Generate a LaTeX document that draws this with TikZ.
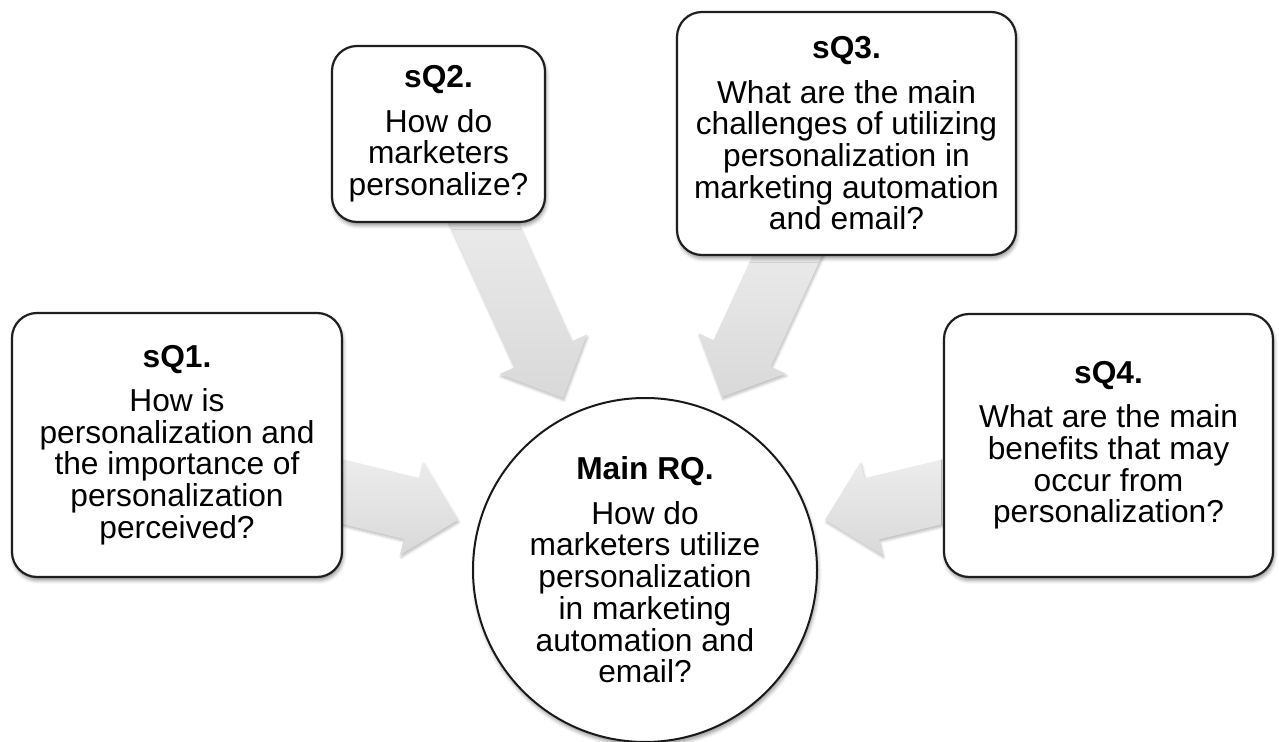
\documentclass[tikz,border=0pt]{standalone}
\usepackage{fontspec}
\setmainfont{Liberation Sans}
\usetikzlibrary{calc,shadows.blur}

\tikzset{
  qtext/.style={font=\fontsize{15.85pt}{15.85pt}\selectfont, align=center, text=black},
  qbox/.style={qtext, draw=black!88, line width=1.1pt, fill=white,
    rounded corners=12.5pt, inner sep=0pt,
    blur shadow={shadow xshift=0.6pt, shadow yshift=-1.8pt,
      shadow blur radius=1.8pt, shadow opacity=40}},
  qmain/.style={qtext, circle, draw=black!90, line width=1pt, fill=white,
    inner sep=0pt, minimum size=172pt,
    blur shadow={shadow xshift=0.6pt, shadow yshift=-1.8pt,
      shadow blur radius=1.8pt, shadow opacity=40}},
  convfill/.style={top color=black!7, bottom color=black!15, draw=none,
    blur shadow={shadow xshift=0.5pt, shadow yshift=-1.2pt,
      shadow blur radius=1.2pt, shadow opacity=25}}
}

% block arrow from a start point (hidden under its box) to a tip
\newcommand\convarrow[2]{%
  \coordinate (#1h) at ($(#2)!24pt!(#1)$);
  \path[convfill]
    ($(#1)!15.75pt!90:(#2)$) -- ($(#1h)!15.75pt!-90:(#1)$)
    -- ($(#1h)!24pt!-90:(#1)$) -- (#2)
    -- ($(#1h)!24pt!90:(#1)$) -- ($(#1h)!15.75pt!90:(#1)$)
    -- ($(#1)!15.75pt!-90:(#2)$) -- cycle;
}

\begin{document}
\begin{tikzpicture}[x=0.5pt, y=-0.5pt]
\useasboundingbox (0,0) rectangle (1279,742);

% arrow ends
\coordinate (s1) at (322.6,486.7);  \coordinate (t1) at (458,520);
\coordinate (s2) at (475,204);      \coordinate (t2) at (563,398);
\coordinate (s3) at (795,239);      \coordinate (t3) at (722,397);
\coordinate (s4) at (963.4,486.8);  \coordinate (t4) at (825,520);

\convarrow{s1}{t1}
\convarrow{s2}{t2}
\convarrow{s3}{t3}
\convarrow{s4}{t4}

% sub-question boxes
\node[qbox, minimum width=165pt, minimum height=132pt] (q1) at (177,445)
  {\textbf{sQ1.}\\[6.3pt]How is\\personalization and\\the importance of\\personalization\\perceived?};
\node[qbox, minimum width=106.5pt, minimum height=88pt] (q2) at (438.5,134)
  {\textbf{sQ2.}\\[6.3pt]How do\\marketers\\personalize?};
\node[qbox, minimum width=169.5pt, minimum height=121.5pt] (q3) at (846.5,133.5)
  {\textbf{sQ3.}\\[6.3pt]What are the main\\challenges of utilizing\\personalization in\\marketing automation\\and email?};
\node[qbox, minimum width=164.5pt, minimum height=131.5pt] (q4) at (1108.5,445.5)
  {\textbf{sQ4.}\\[6.3pt]What are the main\\benefits that may\\occur from\\personalization?};

% main research question
\node[qmain] (rq) at (645,570)
  {\textbf{Main RQ.}\\[6.3pt]How do\\marketers utilize\\personalization\\in marketing\\automation and\\email?};
\end{tikzpicture}
\end{document}
